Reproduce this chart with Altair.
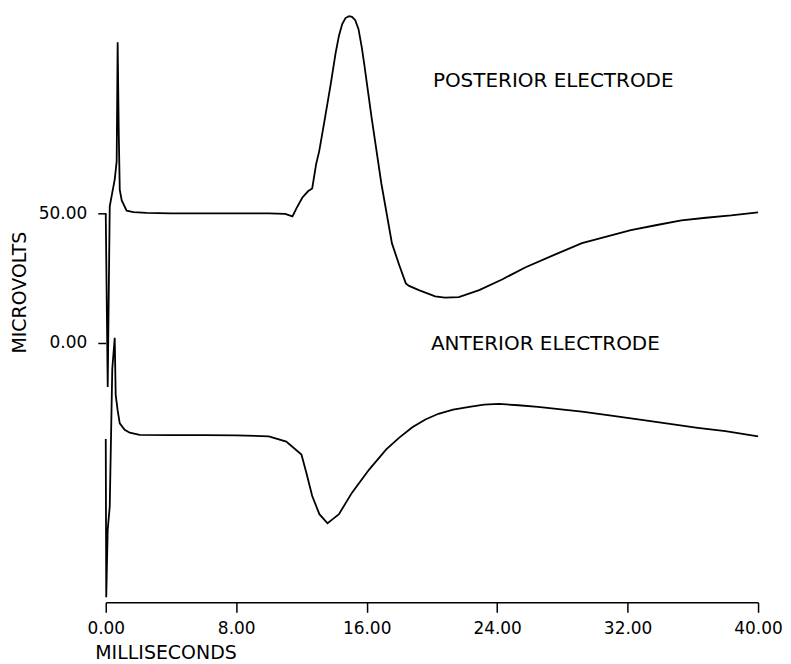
import altair as alt
import pandas as pd

# Posterior electrode trace (ms, microvolts)
post_t = [0.0, 0.12, 0.245, 0.4, 0.55, 0.67, 0.73, 0.8, 0.86, 0.98, 1.28, 1.7, 2.5, 4.0, 6.0, 8.0,
          10.0, 11.0, 11.45, 11.7, 12.05, 12.4, 12.66, 12.9, 13.09, 13.45, 13.8, 14.1, 14.3, 14.5,
          14.7, 14.92, 15.1, 15.3, 15.5, 15.7, 15.84, 16.3, 16.9, 17.55, 18.0, 18.4, 18.6, 19.2, 20.2, 20.8,
          21.65, 22.9, 24.3, 25.75, 27.5, 29.2, 30.7, 32.2, 33.8, 35.3, 36.8, 38.35, 40.0]
post_v = [50.0, -17.0, 52.7, 58.0, 63.0, 70.0, 116.0, 80.0, 59.0, 55.0, 51.0, 50.5, 50.2, 50.0, 50.0, 50.0,
          50.0, 49.8, 48.8, 52.0, 56.0, 58.5, 59.6, 69.0, 74.0, 87.0, 100.0, 112.0, 118.5, 123.0,
          125.3, 126.0, 125.8, 124.5, 121.0, 114.0, 108.0, 87.0, 61.5, 38.4, 30.0, 23.0, 22.0, 20.4, 18.0, 17.5,
          17.7, 20.4, 24.5, 29.2, 34.0, 38.5, 41.0, 43.5, 45.5, 47.3, 48.3, 49.2, 50.4]

# Anterior electrode trace (ms, microvolts)
ant_t = [0.0, 0.03, 0.12, 0.245, 0.4, 0.55, 0.61, 0.73, 0.86, 1.16, 1.47, 2.08, 4.0, 6.0, 8.0, 10.0,
         11.07, 12.0, 12.3, 12.66, 13.1, 13.6, 13.9, 14.3, 15.1, 16.15, 17.2, 18.0, 18.8, 19.6,
         20.4, 21.3, 22.3, 23.2, 24.1, 25.3, 26.5, 29.2, 31.0, 33.3, 36.3, 38.0, 40.0]
ant_v = [-37.0, -98.0, -72.0, -63.0, -10.0, 2.0, -20.0, -26.0, -31.0, -33.5, -34.6, -35.4, -35.5, -35.5, -35.6, -36.0,
         -38.0, -43.0, -50.0, -59.0, -66.0, -69.5, -68.0, -66.0, -57.7, -48.8, -41.0, -36.5, -32.5, -29.5,
         -27.3, -25.7, -24.6, -23.8, -23.5, -24.0, -24.6, -26.5, -28.0, -30.0, -32.7, -34.0, -36.0]

# Annotations
label_text = ["POSTERIOR ELECTRODE", "ANTERIOR ELECTRODE"]
label_t = [20.06, 19.94]
label_v = [101.0, -0.5]

x_ticks = [0, 8, 16, 24, 32, 40]
y_ticks = [0, 50]

rows = []
for i, (t, v) in enumerate(zip(post_t, post_v)):
    rows.append({"t": t, "v": v, "series": "posterior", "i": i})
for i, (t, v) in enumerate(zip(ant_t, ant_v)):
    rows.append({"t": t, "v": v, "series": "anterior", "i": i})
df = pd.DataFrame(rows)
labels = pd.DataFrame({"t": label_t, "v": label_v, "text": label_text})

FONT = "DejaVu Sans"

xscale = alt.Scale(domain=[0, 40], nice=False, zero=False)
yscale = alt.Scale(domain=[-100, 125], nice=False, zero=False)

xaxis = alt.Axis(values=x_ticks, format=".2f", title="MILLISECONDS", grid=False,
                 tickSize=10, tickWidth=1.5, domainWidth=1.5, labelPadding=8,
                 labelFontSize=17, labelFont=FONT, labelColor="black",
                 titleFont=FONT, titleFontSize=19, titleFontWeight="normal", titleColor="black",
                 titleX=-11, titleY=50, titleAlign="left", titleBaseline="middle",
                 domainColor="black", tickColor="black", labelFlush=False)
yaxis = alt.Axis(values=y_ticks, format=".2f", title="MICROVOLTS", grid=False, domain=False,
                 tickSize=8, tickWidth=1.5, labelPadding=11,
                 labelFontSize=17, labelFont=FONT, labelColor="black",
                 titleFont=FONT, titleFontSize=19, titleFontWeight="normal", titleColor="black",
                 titleX=-86, titleY=274, titleAlign="center", titleBaseline="middle", titleAngle=270,
                 tickColor="black", labelFlush=False)

lines = alt.Chart(df).mark_line(color="black", strokeWidth=1.8).encode(
    x=alt.X("t:Q", scale=xscale, axis=xaxis),
    y=alt.Y("v:Q", scale=yscale, axis=yaxis),
    detail="series:N",
    order="i:Q",
)

texts = alt.Chart(labels).mark_text(align="left", baseline="middle", font=FONT,
                                    fontSize=20, color="black").encode(
    x=alt.X("t:Q", scale=xscale),
    y=alt.Y("v:Q", scale=yscale),
    text="text:N",
)

chart = alt.layer(lines, texts).properties(
    width=654, height=585,
    autosize=alt.AutoSizeParams(type="none"),
    padding={"left": 98, "top": 10, "right": 25, "bottom": 70},
    background="white",
).configure_view(stroke=None)

chart.save("out.html", embed_options={"renderer": "svg", "actions": False})
